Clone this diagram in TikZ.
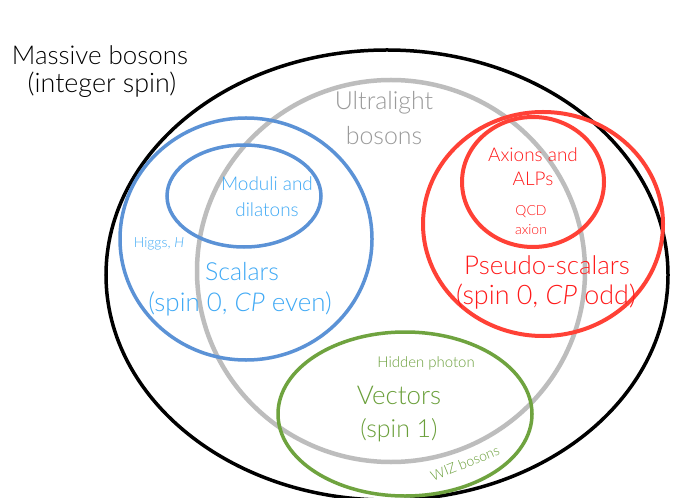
\documentclass[tikz,border=0pt]{standalone}
\usepackage{fontspec}
\setmainfont{Lato Light}
\definecolor{blueline}{HTML}{5B92D6}
\definecolor{bluetext}{HTML}{3FA9F5}
\definecolor{redline}{HTML}{FF4136}
\definecolor{redtext}{HTML}{FF1A1A}
\definecolor{greenline}{HTML}{6FA33F}
\definecolor{greentext}{HTML}{6A9F3A}
\definecolor{grayline}{HTML}{BDBDBD}
\definecolor{graytext}{HTML}{9A9A9A}
\begin{document}
\begin{tikzpicture}[x=1bp,y=-1bp,
  big/.style={font=\fontsize{25}{30}\selectfont, inner sep=0pt, align=center},
  mid/.style={font=\fontsize{19}{24}\selectfont, inner sep=0pt, align=center},
  small/.style={font=\fontsize{14}{18}\selectfont, inner sep=0pt, align=center},
  ring/.style={line width=3.5bp}]
\useasboundingbox (0,0) rectangle (673,498);
\fill[white] (0,0) rectangle (673,498);
\begin{scope}
\clip (0,0) rectangle (673,498);
\draw[ring, black] (387,275) ellipse [x radius=281bp, y radius=225bp];
\draw[ring, grayline, line width=4.5bp] (391,271) ellipse [x radius=194bp, y radius=191bp];
\draw[ring, blueline] (246,239) ellipse [x radius=126bp, y radius=121bp];
\draw[ring, blueline] (244,196) ellipse [x radius=77bp, y radius=51bp];
\draw[ring, redline, line width=4bp] (543,224) ellipse [x radius=120bp, y radius=112bp];
\draw[ring, redline, line width=4bp] (533,182) ellipse [x radius=71bp, y radius=65bp];
\draw[ring, greenline] (405,414) ellipse [x radius=127bp, y radius=82bp];
\end{scope}
\node[big, font=\fontsize{26}{30}\selectfont] (massive1) at (100,55) {Massive bosons};
\node[big, font=\fontsize{27}{30}\selectfont] (massive2) at (102,85) {(integer spin)};
\node[big, text=graytext] (ultra1) at (384,103) {Ultralight};
\node[big, text=graytext] (ultra2) at (384,136) {bosons};
\node[mid, text=bluetext] (moduli1) at (267,184) {Moduli and};
\node[mid, text=bluetext] (moduli2) at (267,210) {dilatons};
\node[small, text=bluetext] (higgs) at (159,244) {Higgs, \textit{H}};
\node[big, text=bluetext] (scalars1) at (242,272) {Scalars};
\node[big, text=bluetext, font=\fontsize{26}{30}\selectfont] (scalars2) at (240,304) {(spin 0, \textit{CP} even)};
\node[mid, text=redtext] (axions1) at (533,155) {Axions and};
\node[mid, text=redtext] (axions2) at (533,179) {ALPs};
\node[small, text=redtext] (qcd1) at (531,212) {QCD};
\node[small, text=redtext] (qcd2) at (531,230) {axion};
\node[big, text=redtext, font=\fontsize{26}{30}\selectfont] (pseudo1) at (547,265) {Pseudo-scalars};
\node[big, text=redtext, font=\fontsize{27}{30}\selectfont] (pseudo2) at (546,297) {(spin 0, \textit{CP} odd)};
\node[small, text=greentext, font=\fontsize{15}{18}\selectfont] (hidden) at (426,363) {Hidden photon};
\node[big, text=greentext, font=\fontsize{26}{30}\selectfont] (vectors1) at (399,395) {Vectors};
\node[big, text=greentext] (vectors2) at (399,430) {(spin 1)};
\node[small, text=greentext, rotate=22] (wiz) at (465,463) {WIZ bosons};
\end{tikzpicture}
\end{document}
